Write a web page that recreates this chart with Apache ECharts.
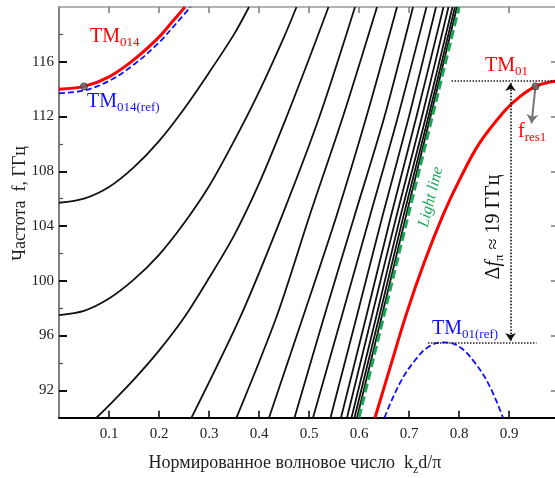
<!DOCTYPE html>
<html><head><meta charset="utf-8">
<script src="https://cdn.jsdelivr.net/npm/echarts@6/dist/echarts.min.js"></script>
<style>html,body{margin:0;padding:0;background:#fff}#c{width:555px;height:478px}</style>
</head><body><div id="c"></div>
<script>
// ---- tick values ----
const xTicks = [0.1, 0.2, 0.3, 0.4, 0.5, 0.6, 0.7, 0.8, 0.9];
const yTickLabels = [92, 96, 100, 104, 108, 112, 116];
const yMinorTicks = [94, 98, 102, 106, 110, 114, 118];

// ---- black dispersion branches [k_z d/pi, f GHz] ----
const L1 = [[0,105.7],[0.05,106.0],[0.1,106.85],[0.15,108.3],[0.2,110.2],[0.25,112.55],[0.3,115.2],[0.35,118.0],[0.38,120.0]];
const L2 = [[0,97.5],[0.05,97.8],[0.1,98.7],[0.15,100.1],[0.2,101.9],[0.25,104.2],[0.3,106.9],[0.35,110.2],[0.4,113.8],[0.45,117.8],[0.475,120]];
const L3 = [[0.075,90],[0.1,90.9],[0.15,92.8],[0.2,94.9],[0.25,97.3],[0.3,100.2],[0.35,103.3],[0.4,107.1],[0.45,111.5],[0.5,116.2],[0.539,120]];
const L4 = [[0.265,90],[0.364,97.47],[0.446,104.74],[0.521,112],[0.592,120]];
const L5 = [[0.355,90],[0.436,97.47],[0.501,104.74],[0.568,112],[0.636,120]];
const L6 = [[0.42,90],[0.489,97.47],[0.555,104.74],[0.615,112],[0.676,120]];
const L7 = [[0.471,90],[0.531,97.47],[0.591,104.74],[0.651,112],[0.708,120]];
const L8 = [[0.508,90],[0.566,97.47],[0.622,104.74],[0.678,112],[0.735,120]];
const L9 = [[0.543,90],[0.596,97.47],[0.647,104.74],[0.700,112],[0.754,120]];
const L10 = [[0.564,90],[0.615,97.47],[0.664,104.74],[0.715,112],[0.769,120]];
const L11 = [[0.576,90],[0.626,97.47],[0.675,104.74],[0.726,112],[0.779,120]];
const L12 = [[0.585,90],[0.635,97.47],[0.683,104.74],[0.734,112],[0.787,120]];
const L13 = [[0.591,90],[0.641,97.47],[0.689,104.74],[0.739,112],[0.792,120]];
const L14 = [[0.596,90],[0.646,97.47],[0.694,104.74],[0.743,112],[0.796,120]];
const blackLines = [L1,L2,L3,L4,L5,L6,L7,L8,L9,L10,L11,L12,L13,L14];

// ---- light line ----
const lightLine = [[0.6,90],[0.8,120]];

// ---- TM modes ----
const TM01 = [[0.632,90],[0.66,93.4],[0.695,97.6],[0.73,101.3],[0.768,104.8],[0.8,107.3],[0.84,110.0],[0.891,112.4],[0.92,113.4],[0.953,114.2],[0.98,114.5],[1.0,114.6]];
const TM01ref = [[0.651,90],[0.68,92.4],[0.71,94.1],[0.74,95.2],[0.77,95.5],[0.8,95.2],[0.83,94.1],[0.86,92.4],[0.888,90]];
const TM014 = [[0,114.0],[0.05,114.2],[0.1,114.9],[0.148,116.1],[0.2,117.8],[0.226,118.9],[0.252,120]];
const TM014ref = [[0,113.7],[0.05,113.9],[0.1,114.6],[0.15,115.8],[0.2,117.4],[0.232,118.7],[0.263,120]];
const markers = [[0.05,114.2],[0.953,114.2]];

// ---- annotation lines ----
const tm01Level = 114.6, tm01refLevel = 95.5;
const deltaArrow = [[0.903,114.45],[0.903,95.6]];
const fresArrow = [[0.953,114.2],[0.945,111.5]];

const SERIF = 'Liberation Serif';
const chart = echarts.init(document.getElementById('c'), null, {renderer:'canvas'});

const series = [];
blackLines.forEach(d => series.push({
  type:'line', data:d, smooth:0.3, symbol:'none', silent:true,
  lineStyle:{color:'#111', width:1.8}, z:2
}));
series.push({type:'line', data:lightLine, symbol:'none', silent:true,
  lineStyle:{color:'#1aa655', width:3, type:[9,4]}, z:3});
series.push({type:'line', data:TM01, smooth:0.35, symbol:'none', silent:true,
  lineStyle:{color:'#ff0000', width:3}, z:4});
series.push({type:'line', data:TM01ref, smooth:0.4, symbol:'none', silent:true,
  lineStyle:{color:'#1010ff', width:1.8, type:[6,3]}, z:4});
series.push({type:'line', data:TM014, smooth:0.35, symbol:'none', silent:true,
  lineStyle:{color:'#ff0000', width:3}, z:4});
series.push({type:'line', data:TM014ref, smooth:0.35, symbol:'none', silent:true,
  lineStyle:{color:'#1010ff', width:1.8, type:[6,3]}, z:4});
// reference lines / arrows
series.push({type:'line', data:[], symbol:'none', silent:true,
  markLine:{silent:true, symbol:['none','none'], label:{show:false}, animation:false,
    lineStyle:{type:'dotted', color:'#222', width:1.5},
    data:[
      [{coord:[0.785,tm01Level]},{coord:[1.0,tm01Level]}],
      [{coord:[0.738,tm01refLevel]},{coord:[0.955,tm01refLevel]}]
    ]}});
series.push({type:'line', data:[], symbol:'none', silent:true,
  markLine:{silent:true, symbol:['arrow','arrow'], symbolSize:8, label:{show:false}, animation:false,
    lineStyle:{type:'dotted', color:'#111', width:1.6},
    data:[[{coord:deltaArrow[0]},{coord:deltaArrow[1]}]]}});
series.push({type:'line', data:[], symbol:'none', silent:true,
  markLine:{silent:true, symbol:['none','arrow'], symbolSize:9, label:{show:false}, animation:false,
    lineStyle:{type:'solid', color:'#777', width:2},
    data:[[{coord:fresArrow[0]},{coord:fresArrow[1]}]]}});
series.push({type:'scatter', data:markers, symbol:'circle', symbolSize:7, silent:true,
  itemStyle:{color:'#666', borderColor:'#333', borderWidth:1}, z:6});

function sub(x, y, main, subTxt, color, mainSize, subSize, pad) {
  return {type:'text', x:x, y:y, silent:true, z:10,
    style:{text:'{a|'+main+'}{s|'+subTxt+'}', textAlign:'left', textVerticalAlign:'top',
      rich:{
        a:{fontFamily:SERIF, fontSize:mainSize, lineHeight:mainSize+2, fill:color, verticalAlign:'top'},
        s:{fontFamily:SERIF, fontSize:subSize, lineHeight:subSize+1, fill:color, verticalAlign:'top', padding:[pad,0,0,0]}
      }}};
}

const graphics = [
  sub(90, 27, 'TM', '014', '#ff0000', 20, 13, 9),
  sub(87, 92, 'TM', '014(ref)', '#1010ff', 20, 13, 9),
  sub(485, 56, 'TM', '01', '#ff0000', 20, 13, 9),
  sub(518, 122, 'f', 'res1', '#ff0000', 20, 13, 9),
  sub(432, 319, 'TM', '01(ref)', '#1010ff', 20, 13, 9),
  {type:'text', x:431, y:197, rotation:76*Math.PI/180, silent:true, z:10,
    style:{text:'Light line', fontFamily:SERIF, fontStyle:'italic', fontSize:16, fill:'#1aa655',
      textAlign:'center', textVerticalAlign:'middle'}},
  {type:'text', x:495, y:227, rotation:Math.PI/2, silent:true, z:10,
    style:{text:'{d|Δ}{f|f}{p|π}{n| ≈ 19 ГГц}', textAlign:'center', textVerticalAlign:'middle',
      rich:{
        d:{fontFamily:SERIF, fontSize:20, lineHeight:22, fill:'#111', verticalAlign:'top'},
        f:{fontFamily:SERIF, fontStyle:'italic', fontSize:20, lineHeight:22, fill:'#111', verticalAlign:'top'},
        p:{fontFamily:SERIF, fontSize:13, lineHeight:14, fill:'#111', verticalAlign:'top', padding:[9,0,0,0]},
        n:{fontFamily:SERIF, fontSize:20, lineHeight:22, fill:'#111', verticalAlign:'top'}
      }}}
];

const option = {
  animation:false,
  backgroundColor:'#fff',
  grid:{left:59, top:7, width:500, height:410.7, outerBoundsMode:'none', containLabel:false},
  xAxis:[
    {type:'value', min:0, max:1, interval:0.1, position:'bottom',
      axisLine:{show:true, onZero:false, lineStyle:{color:'#000', width:1.8}},
      axisTick:{show:true, inside:true, length:7, customValues:xTicks, lineStyle:{color:'#000', width:1.5}},
      axisLabel:{show:true, customValues:xTicks, formatter:v => (+v).toFixed(1), fontFamily:SERIF, fontSize:15, color:'#222', margin:9},
      splitLine:{show:false},
      name:'{a|Нормированное волновое число  k}{s|z}{a|d/π}', nameLocation:'middle', nameGap:37,
      nameMoveOverlap:false,
      nameTextStyle:{padding:[0,28,0,0], rich:{
        a:{fontFamily:SERIF, fontSize:18, lineHeight:21, color:'#222', verticalAlign:'top'},
        s:{fontFamily:SERIF, fontSize:12, lineHeight:13, color:'#222', verticalAlign:'top', padding:[9,0,0,0]}}}
    },
    {type:'value', min:0, max:1, interval:0.1, position:'top',
      axisLine:{show:true, onZero:false, lineStyle:{color:'#999', width:1.5}},
      axisTick:{show:true, inside:true, length:6, customValues:xTicks, lineStyle:{color:'#777', width:1.5}},
      axisLabel:{show:false}, splitLine:{show:false}}
  ],
  yAxis:[
    {type:'value', min:90, max:120, position:'left',
      axisLine:{show:true, onZero:false, lineStyle:{color:'#808080', width:2}},
      axisTick:{show:true, inside:true, length:8, customValues:yTickLabels, lineStyle:{color:'#111', width:2}},
      axisLabel:{show:true, customValues:yTickLabels, fontFamily:SERIF, fontSize:15, color:'#222', margin:5},
      splitLine:{show:false},
      name:'Частота  f, ГГц', nameLocation:'middle', nameGap:30, nameMoveOverlap:false,
      nameTextStyle:{fontFamily:SERIF, fontSize:18, color:'#222', padding:[0,0,0,18]}
    },
    {type:'value', min:90, max:120, position:'left',
      axisLine:{show:false},
      axisTick:{show:true, inside:true, length:4, customValues:yMinorTicks, lineStyle:{color:'#555', width:1.2}},
      axisLabel:{show:false}, splitLine:{show:false}},
    {type:'value', min:90, max:120, position:'right',
      axisLine:{show:true, onZero:false, lineStyle:{color:'#999', width:1.5}},
      axisTick:{show:true, inside:true, length:8, customValues:yTickLabels, lineStyle:{color:'#777', width:1.5}},
      axisLabel:{show:false}, splitLine:{show:false}}
  ],
  series: series,
  graphic: graphics
};
chart.setOption(option);
</script>
</body></html>
